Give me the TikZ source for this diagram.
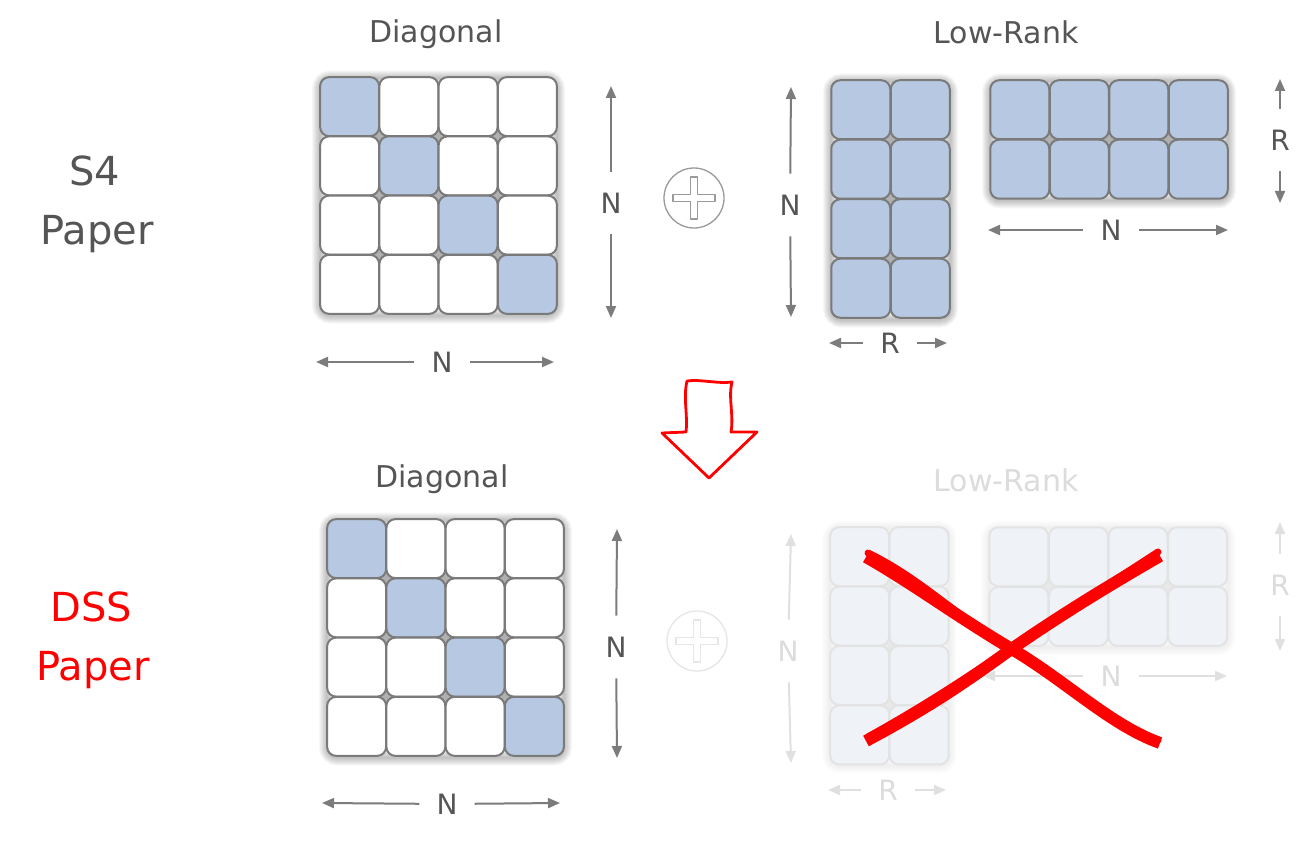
\documentclass[tikz,border=0pt]{standalone}
\usepackage{fontspec}
\setmainfont{DejaVu Sans}
\usetikzlibrary{arrows.meta}
\definecolor{ink}{HTML}{555555}
\definecolor{edge}{HTML}{7A7A7A}
\definecolor{cellblue}{HTML}{B7C9E2}
\definecolor{fadeedge}{HTML}{E3E3E3}
\definecolor{fadefill}{HTML}{EFF3F8}
\definecolor{fadeink}{HTML}{DCDCDC}
\definecolor{arrowc}{HTML}{7C7C7C}
\definecolor{fadearrow}{HTML}{E0E0E0}
\definecolor{plusc}{HTML}{9A9A9A}
\definecolor{fadeplus}{HTML}{E6E6E6}
\definecolor{backc}{HTML}{B0B0B0}
\definecolor{fadeback}{HTML}{E8E8E8}
\definecolor{xred}{HTML}{FF0000}

\tikzset{
  cell/.style={draw=edge,line width=2pt,rounded corners=9pt,minimum width=59pt,minimum height=59pt,inner sep=0pt},
  fcell/.style={cell,draw=fadeedge},
  lbl/.style={text=ink,inner xsep=17pt,inner ysep=21pt,font=\fontsize{28}{30}\selectfont},
  flbl/.style={lbl,text=fadeink},
  title/.style={text=ink,font=\fontsize{30}{34}\selectfont,anchor=base},
  ftitle/.style={title,text=fadeink},
  side/.style={text=ink,font=\fontsize{40}{44}\selectfont,anchor=base},
  redside/.style={side,text=xred},
  dimarr/.style={draw=arrowc,line width=2pt,-{Triangle[length=12pt,width=10pt]}},
  fdimarr/.style={dimarr,draw=fadearrow},
  plusring/.style={circle,draw=plusc,line width=1.3pt,minimum size=60pt,inner sep=0pt},
  fplusring/.style={plusring,draw=fadeplus},
  crossline/.style={draw=plusc,line width=1.2pt,line join=round},
  fcrossline/.style={crossline,draw=fadeplus},
  xstroke/.style={draw=xred,line width=12pt,line cap=butt},
  xthin/.style={draw=xred,line width=7pt,line cap=round},
  hollowarrow/.style={draw=xred,line width=2.8pt,line join=round,fill=white},
}

% #1 x0, #2 y0, #3 x1, #4 y1, #5 opacity, #6 backing colour
\newcommand\matglow[6]{%
  \foreach \k in {2,4,...,16}{%
    \draw[black,opacity=#5,line width=\k pt,rounded corners=10pt] (#1,{#2+1.5}) rectangle (#3,{#4+1.5});
  }%
  \fill[#6] ({#1+12},{#2+12}) rectangle ({#3-12},{#4-12});
}
% #1 name, #2 x0, #3 y0, #4 cols, #5 rows, #6 pitch, #7 style, #8 off-diagonal fill, #9 diagonal fill
\newcommand\cellgrid[9]{%
  \foreach \ri in {1,...,#5}{%
    \foreach \ci in {1,...,#4}{%
      \ifnum\ri=\ci\relax\def\cf{#9}\else\def\cf{#8}\fi
      \node[#7,fill=\cf] (#1-\ri-\ci) at ({#2+(\ci-0.5)*#6},{#3+(\ri-0.5)*#6}) {};
    }%
  }%
}

\begin{document}
\begin{tikzpicture}[x=1pt,y=-1pt]
\useasboundingbox[fill=white] (0,0) rectangle (1315,853);

% ---------------- left side labels
\node[side] (s4) at (95,186) {S4};
\node[side] (pap1) at (97,245) {Paper};
\node[redside] (dss) at (91,621) {DSS};
\node[redside] (pap2) at (93,680) {Paper};

% ================= TOP ROW =================
\node[title] (tdiag) at (436,43) {Diagonal};
\node[title] (tlow) at (1006,44) {Low-Rank};

% diagonal matrix
\matglow{320}{77}{557}{314}{0.03}{backc}
\cellgrid{A}{320}{77}{4}{4}{59.25}{cell}{white}{cellblue}

% dimension arrows of diagonal
\node[lbl] (nAv) at (611,203) {N};
\coordinate (nAvt) at (611,86);
\coordinate (nAvb) at (611,318);
\draw[dimarr] (nAv) -- (nAvt);
\draw[dimarr] (nAv) -- (nAvb);
\node[lbl] (nAh) at (442,362) {N};
\coordinate (nAhl) at (316,362);
\coordinate (nAhr) at (554,362);
\draw[dimarr] (nAh) -- (nAhl);
\draw[dimarr] (nAh) -- (nAhr);

% plus
\node[plusring] (plus1) at (694,198) {};
\draw[crossline,shift={(plus1.center)}] (-3.5,-21) -- (3.5,-21) -- (3.5,-3.5) -- (21,-3.5) -- (21,3.5) -- (3.5,3.5) -- (3.5,21) -- (-3.5,21) -- (-3.5,3.5) -- (-21,3.5) -- (-21,-3.5) -- (-3.5,-3.5) -- cycle;

% low-rank left factor
\matglow{831}{80}{950}{318}{0.03}{backc}
\cellgrid{B}{831}{80}{2}{4}{59.5}{cell}{cellblue}{cellblue}
% low-rank right factor
\matglow{990}{80}{1228}{199}{0.03}{backc}
\cellgrid{C}{990}{80}{4}{2}{59.5}{cell}{cellblue}{cellblue}

\node[lbl] (nBv) at (790,205) {N};
\coordinate (nBvt) at (791,87);
\coordinate (nBvb) at (791,317);
\draw[dimarr] (nBv) -- (nBvt);
\draw[dimarr] (nBv) -- (nBvb);
\node[lbl] (rBh) at (890,343) {R};
\coordinate (rBhl) at (829,343);
\coordinate (rBhr) at (947,343);
\draw[dimarr] (rBh) -- (rBhl);
\draw[dimarr] (rBh) -- (rBhr);
\node[lbl] (rCv) at (1280,140) {R};
\coordinate (rCvt) at (1280,79);
\coordinate (rCvb) at (1280,203);
\draw[dimarr] (rCv) -- (rCvt);
\draw[dimarr] (rCv) -- (rCvb);
\node[lbl] (nCh) at (1111,230) {N};
\coordinate (nChl) at (988,230);
\coordinate (nChr) at (1228,230);
\draw[dimarr] (nCh) -- (nChl);
\draw[dimarr] (nCh) -- (nChr);

% ================= red transition arrow =================
\draw[hollowarrow] (687,381) .. controls (700,379) and (718,384) .. (732,382)
  .. controls (728,398) and (734,415) .. (731,432)
  -- (757,432) -- (709,478) -- (662,433) -- (686,432)
  .. controls (688,415) and (683,398) .. cycle;

% ================= BOTTOM ROW =================
\node[title] (bdiag) at (442,487) {Diagonal};
\node[ftitle] (blow) at (1006,491) {Low-Rank};

\matglow{327}{519}{564}{756}{0.03}{backc}
\cellgrid{D}{327}{519}{4}{4}{59.25}{cell}{white}{cellblue}

\node[lbl] (nDv) at (616,647) {N};
\coordinate (nDvt) at (617,529);
\coordinate (nDvb) at (617,758);
\draw[dimarr] (nDv) -- (nDvt);
\draw[dimarr] (nDv) -- (nDvb);
\node[lbl] (nDh) at (447,804) {N};
\coordinate (nDhl) at (322,803);
\coordinate (nDhr) at (560,803);
\draw[dimarr] (nDh) -- (nDhl);
\draw[dimarr] (nDh) -- (nDhr);

% faded plus
\node[fplusring] (plus2) at (697,641) {};
\draw[fcrossline,shift={(plus2.center)}] (-3.5,-21) -- (3.5,-21) -- (3.5,-3.5) -- (21,-3.5) -- (21,3.5) -- (3.5,3.5) -- (3.5,21) -- (-3.5,21) -- (-3.5,3.5) -- (-21,3.5) -- (-21,-3.5) -- (-3.5,-3.5) -- cycle;

% faded low-rank
\matglow{830}{527}{949}{764}{0.007}{fadeback}
\cellgrid{E}{830}{527}{2}{4}{59.4}{fcell}{fadefill}{fadefill}
\matglow{989}{527}{1228}{646}{0.007}{fadeback}
\cellgrid{F}{989}{527}{4}{2}{59.6}{fcell}{fadefill}{fadefill}

\node[flbl] (nEv) at (788,651) {N};
\coordinate (nEvt) at (791,534);
\coordinate (nEvb) at (791,763);
\draw[fdimarr] (nEv) -- (nEvt);
\draw[fdimarr] (nEv) -- (nEvb);
\node[flbl] (rEh) at (888,790) {R};
\coordinate (rEhl) at (828,790);
\coordinate (rEhr) at (946,790);
\draw[fdimarr] (rEh) -- (rEhl);
\draw[fdimarr] (rEh) -- (rEhr);
\node[flbl] (rFv) at (1280,585) {R};
\coordinate (rFvt) at (1280,522);
\coordinate (rFvb) at (1280,651);
\draw[fdimarr] (rFv) -- (rFvt);
\draw[fdimarr] (rFv) -- (rFvb);
\node[flbl] (nFh) at (1111,676) {N};
\coordinate (nFhl) at (983,676);
\coordinate (nFhr) at (1227,676);
\draw[fdimarr] (nFh) -- (nFhl);
\draw[fdimarr] (nFh) -- (nFhr);

% red cross
\draw[xstroke] (866,557) .. controls (915,585) and (950,612) .. (1010,648)
  .. controls (1065,680) and (1110,725) .. (1160,743);
\draw[xthin] (868,553) .. controls (920,578) and (955,615) .. (1012,650)
  .. controls (1068,683) and (1108,722) .. (1158,740);
\draw[xstroke] (866,741) .. controls (920,712) and (955,690) .. (1010,650)
  .. controls (1065,612) and (1110,585) .. (1160,556);
\draw[xthin] (868,737) .. controls (925,705) and (960,682) .. (1012,647)
  .. controls (1068,610) and (1112,582) .. (1158,552);
\end{tikzpicture}
\end{document}
